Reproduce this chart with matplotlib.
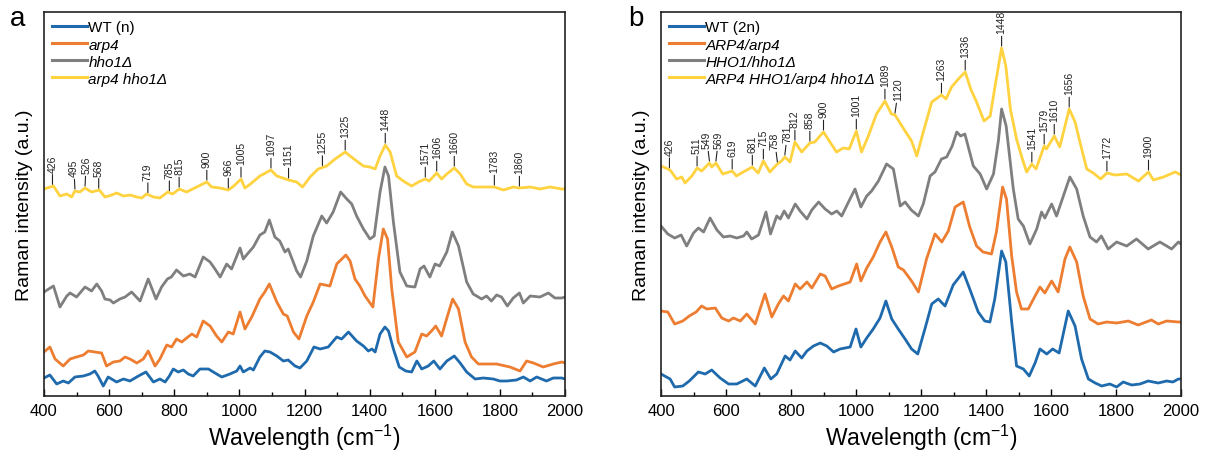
import numpy as np
import matplotlib
matplotlib.use("Agg")
import matplotlib.pyplot as plt
from matplotlib.ticker import MultipleLocator

plt.rcParams['font.family'] = ['Liberation Sans', 'DejaVu Sans']
plt.rcParams['mathtext.fontset'] = 'custom'
plt.rcParams['mathtext.rm'] = 'Liberation Sans'
plt.rcParams['mathtext.it'] = 'Liberation Sans:italic'

# ---------------- Panel a data (wavenumber, intensity a.u.) ----------------
a_wt_x = [400,418,439,459,475,495,521,541,556,566,582,597,623,644,664,690,713,736,756,772,785,797,812,828,843,858,879,905,920,946,971,992,1002,1012,1033,1043,1063,1078,1094,1115,1135,1150,1171,1186,1207,1229,1248,1273,1299,1314,1335,1360,1381,1396,1407,1417,1432,1447,1458,1473,1491,1511,1529,1545,1560,1580,1597,1616,1637,1660,1678,1698,1724,1749,1780,1800,1821,1851,1872,1893,1913,1943,1964,1990,2000]
a_wt_y = [18,21,12,15,13,19,20,22,25,20,10,19,14,17,15,20,24,14,17,14,20,27,24,26,22,20,27,27,24,19,22,25,30,24,28,26,39,45,44,40,35,36,30,28,35,49,47,49,59,57,64,55,50,45,47,44,62,69,65,47,29,25,24,35,27,30,35,27,35,40,33,24,17,18,17,15,15,16,19,15,19,15,18,18,17]

a_arp4_x = [400,418,434,459,480,500,521,536,556,577,592,613,633,649,664,685,705,720,741,756,777,792,807,823,838,854,869,889,910,930,946,966,981,1002,1017,1038,1063,1078,1092,1115,1135,1147,1166,1183,1207,1227,1248,1278,1299,1327,1340,1355,1370,1386,1410,1427,1442,1455,1468,1488,1514,1539,1560,1575,1590,1603,1621,1639,1655,1673,1693,1713,1734,1759,1790,1831,1862,1882,1903,1933,1964,1990,2000]
a_arp4_y = [44,49,37,30,37,39,41,45,44,43,30,34,35,39,37,33,37,45,30,37,51,49,57,54,58,62,59,75,70,60,54,64,62,84,67,79,97,104,112,94,82,80,64,57,80,94,112,110,132,141,135,117,110,100,89,137,167,157,107,54,39,44,62,60,65,70,60,80,97,87,54,39,32,32,32,29,25,35,33,29,32,34,33]

a_hho1_x = [400,429,449,470,480,500,526,546,562,577,587,603,613,633,649,669,695,720,744,761,779,791,807,828,848,864,889,910,925,941,961,976,1002,1012,1022,1043,1063,1078,1092,1109,1124,1140,1150,1176,1188,1207,1227,1253,1268,1288,1311,1330,1345,1360,1381,1401,1414,1432,1447,1458,1473,1493,1514,1539,1555,1567,1585,1601,1615,1637,1654,1673,1698,1718,1744,1759,1774,1790,1805,1823,1841,1860,1872,1893,1923,1949,1969,1990,2000]
a_hho1_y = [104,110,89,100,103,99,109,105,112,105,97,96,93,97,99,104,95,117,97,109,117,119,126,120,122,119,139,134,127,119,132,127,148,137,141,149,161,164,176,159,155,144,147,125,119,135,160,180,173,184,204,197,192,180,167,157,160,204,229,220,174,124,110,109,127,130,119,132,130,144,164,150,114,102,97,100,95,101,99,90,98,103,93,100,99,103,98,98,99]

a_dbl_x = [400,429,449,470,485,495,510,526,546,570,587,608,623,644,664,685,700,715,736,756,780,795,815,838,869,900,915,940,966,983,1005,1017,1034,1063,1097,1115,1151,1176,1194,1217,1242,1268,1294,1325,1340,1360,1381,1401,1417,1432,1448,1463,1483,1503,1529,1550,1571,1583,1606,1621,1637,1660,1678,1698,1718,1749,1783,1811,1841,1860,1893,1923,1954,1990,2000]
a_dbl_y = [207,210,200,202,199,205,204,208,204,206,199,201,203,200,201,199,198,202,199,198,204,202,207,204,209,214,209,208,206,210,217,208,212,220,226,220,216,214,209,219,227,230,237,244,240,235,230,229,227,240,251,244,220,215,210,214,217,215,223,217,222,228,222,212,209,209,209,206,209,208,209,207,209,207,207]

a_labels = ["WT (n)", "arp4", "hho1\u0394", "arp4 hho1\u0394"]
a_peaks = [426, 495, 526, 568, 719, 785, 815, 900, 966, 1005, 1097, 1151, 1255, 1325, 1448, 1571, 1606, 1660, 1783, 1860]

# ---------------- Panel b data ----------------
b_wt_x = [400,428,442,467,487,515,536,556,582,608,633,664,690,718,738,756,782,797,813,833,849,869,890,910,931,951,982,1000,1015,1033,1053,1074,1092,1110,1130,1151,1171,1190,1212,1233,1253,1274,1299,1330,1350,1376,1396,1412,1427,1448,1461,1479,1494,1515,1533,1551,1566,1587,1605,1625,1653,1674,1694,1715,1736,1756,1781,1802,1822,1848,1874,1899,1930,1956,1975,1992,2000]
b_wt_y = [22,17,9,10,15,24,22,26,18,12,12,17,10,28,17,22,40,36,45,38,45,50,53,50,44,47,49,67,49,58,67,78,95,77,67,57,47,42,67,92,97,90,111,124,107,84,75,74,97,145,134,74,30,27,20,33,47,42,47,43,85,70,37,17,13,10,12,9,14,11,12,15,13,15,14,17,17]

b_arp4_x = [400,421,442,467,487,508,525,541,567,587,608,623,644,664,690,720,741,761,777,792,813,828,849,864,890,905,925,946,982,1002,1015,1033,1053,1074,1092,1110,1130,1146,1171,1192,1217,1243,1264,1284,1305,1330,1350,1371,1391,1417,1432,1451,1463,1479,1494,1509,1530,1551,1566,1581,1602,1622,1643,1658,1679,1699,1720,1745,1771,1802,1838,1868,1909,1930,1956,1992,2000]
b_arp4_y = [85,84,72,75,80,84,90,87,88,78,75,78,75,82,72,102,79,92,100,95,112,107,114,108,122,120,107,110,114,132,115,128,139,154,164,149,129,126,115,104,137,162,154,165,189,194,169,150,144,142,164,209,197,140,104,87,87,100,109,103,115,104,137,149,134,100,77,72,74,73,75,71,76,72,75,74,74]

b_hho1_x = [400,421,442,462,479,500,515,531,551,572,592,613,633,654,664,679,700,723,737,756,767,779,792,813,828,849,864,885,905,925,941,956,977,997,1015,1033,1048,1069,1094,1115,1136,1151,1170,1192,1207,1228,1243,1263,1279,1296,1310,1322,1335,1361,1382,1402,1423,1438,1448,1462,1484,1499,1515,1535,1556,1571,1581,1602,1617,1638,1658,1679,1699,1720,1740,1755,1776,1802,1833,1863,1899,1935,1956,1971,1992,2000]
b_hho1_y = [170,162,158,161,150,163,168,164,178,166,159,160,158,160,164,157,161,184,162,180,177,185,178,192,185,177,186,194,187,182,185,180,194,207,189,200,205,215,232,227,190,194,186,180,192,220,224,237,239,250,264,260,262,230,222,207,222,255,287,270,207,177,170,152,167,184,178,192,180,200,219,207,180,159,154,160,147,154,150,157,147,154,150,147,154,152]

b_dbl_x = [400,428,448,464,474,495,511,525,549,556,569,590,619,632,653,681,699,715,735,758,771,781,797,812,833,858,873,900,920,940,961,979,1001,1017,1038,1063,1089,1109,1120,1151,1171,1187,1207,1233,1263,1277,1294,1315,1336,1353,1371,1394,1413,1430,1448,1461,1475,1494,1509,1525,1541,1554,1579,1586,1610,1627,1656,1674,1689,1710,1730,1753,1772,1797,1833,1869,1900,1915,1946,1982,2000]
b_dbl_y = [230,226,217,219,213,220,228,225,233,229,233,222,225,220,224,229,223,235,224,232,235,239,234,254,244,253,254,264,254,244,248,247,265,244,260,282,295,282,281,265,255,240,264,294,301,297,309,317,324,307,294,275,280,314,348,330,287,257,240,224,232,227,250,247,260,249,287,274,254,227,223,217,223,221,222,215,224,216,219,224,221]

b_labels = ["WT (2n)", "ARP4/arp4", "HHO1/hho1\u0394", "ARP4 HHO1/arp4 hho1\u0394"]
b_peaks = [426, 511, 549, 569, 619, 681, 715, 758, 781, 812, 858, 900, 1001, 1089, 1120, 1263, 1336, 1448, 1541, 1579, 1610, 1656, 1772, 1900]

colors = ["#1f6aad", "#ed7d31", "#7f7f7f", "#ffd23f"]

# small horizontal nudges (points) for crowded peak labels
nudge = {549: -1.8, 569: 1.8, 758: -1.8, 781: 1.8, 495: -0.8, 526: 0.8,
         1089: 0.0, 1120: 2.5}

W, H = 1205, 464
fig = plt.figure(figsize=(W / 100, H / 100), dpi=100)

def make_axes(x0, x1, y0, y1):
    return fig.add_axes([x0 / W, 1 - y1 / H, (x1 - x0) / W, (y1 - y0) / H])

axa = make_axes(44, 565, 13, 397)
axb = make_axes(661, 1181, 13, 397)

def draw(ax, series, labels, peaks, italic_flags):
    for (xs, ys), lab, c in zip(series, labels, colors):
        ax.plot(xs, ys, color=c, lw=2.0, label=lab, solid_joinstyle='round')
    top_x, top_y = series[-1]
    for p in peaks:
        yb = np.interp(p, top_x, top_y)
        ax.annotate(str(p), xy=(p, yb + 2), xytext=(nudge.get(p, 0), 9), textcoords='offset points',
                    rotation=90, ha='center', va='bottom', fontsize=7.5, color='#222222',
                    arrowprops=dict(arrowstyle='-', lw=0.8, color='#222222', shrinkA=0, shrinkB=0))
    ax.set_xlim(400, 2000)
    ax.set_ylim(0, 384)
    ax.xaxis.set_major_locator(MultipleLocator(200))
    ax.xaxis.set_minor_locator(MultipleLocator(100))
    ax.tick_params(axis='x', which='major', direction='in', length=5, width=1.0, labelsize=12, pad=5)
    ax.tick_params(axis='x', which='minor', direction='in', length=3, width=1.0)
    ax.set_yticks([])
    for s in ax.spines.values():
        s.set_linewidth(1.2)
        s.set_color('#222222')
    ax.set_xlabel(r'Wavelength (cm$^{-1}$)', fontsize=16.5, labelpad=3)
    ax.set_ylabel('Raman intensity (a.u.)', fontsize=14, labelpad=8)
    leg = ax.legend(loc='upper left', bbox_to_anchor=(0.015, 0.978), frameon=False,
                    fontsize=11, handlelength=2.3, handletextpad=0.1, labelspacing=0.2,
                    borderaxespad=0, borderpad=0)
    for t, it in zip(leg.get_texts(), italic_flags):
        if it:
            t.set_fontstyle('italic')
    for l in leg.get_lines():
        l.set_linewidth(2.2)

draw(axa, [(a_wt_x, a_wt_y), (a_arp4_x, a_arp4_y), (a_hho1_x, a_hho1_y), (a_dbl_x, a_dbl_y)],
     a_labels, a_peaks, [False, True, True, True])
draw(axb, [(b_wt_x, b_wt_y), (b_arp4_x, b_arp4_y), (b_hho1_x, b_hho1_y), (b_dbl_x, b_dbl_y)],
     b_labels, b_peaks, [False, True, True, True])

fig.text(18 / W, 1 - 19 / H, 'a', fontsize=20, ha='center', va='center')
fig.text(636 / W, 1 - 19 / H, 'b', fontsize=20, ha='center', va='center')

fig.savefig('out.png', dpi=100)
